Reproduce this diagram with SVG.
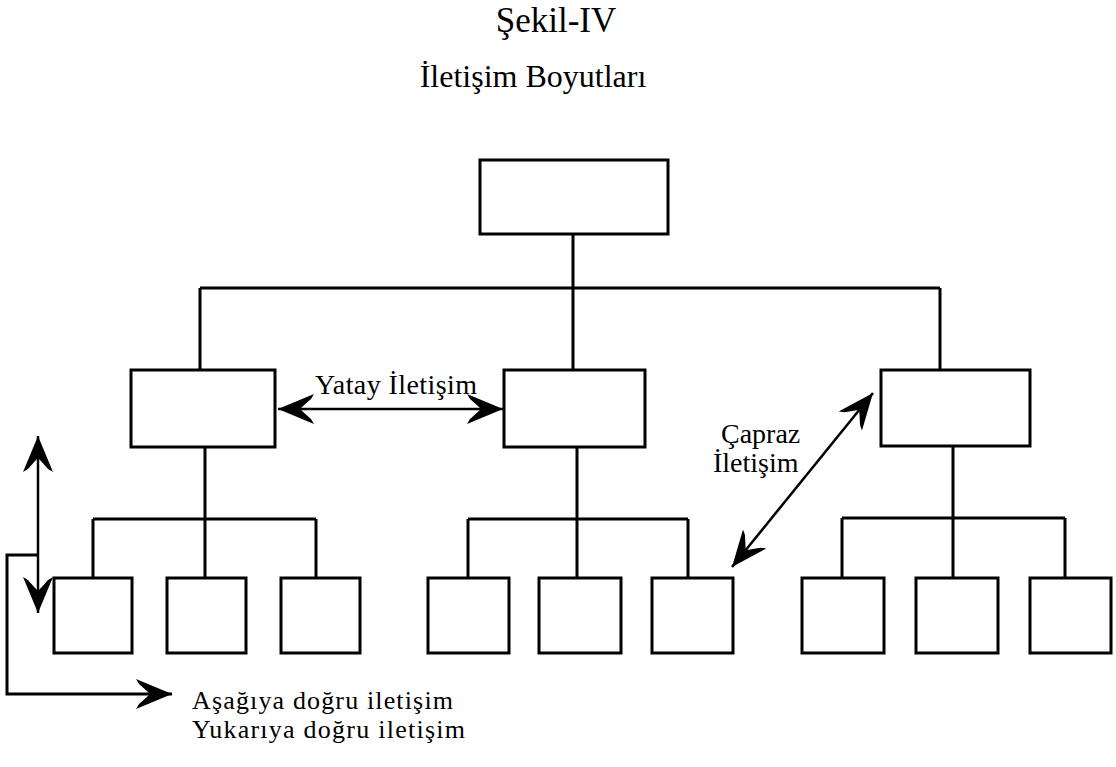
<svg xmlns="http://www.w3.org/2000/svg" width="1116" height="767" viewBox="0 0 1116 767">
<style>
.box{fill:#fff;stroke:#000;stroke-width:3}
.ln{fill:none;stroke:#000;stroke-width:3}
.ar{fill:none;stroke:#000;stroke-width:2.5}
.t{font-family:"Liberation Serif","Times New Roman",serif;fill:#000}
</style>
<defs>
<marker id="ah" markerUnits="userSpaceOnUse" viewBox="-40 -20 42 40" markerWidth="42" markerHeight="40" refX="0" refY="0" orient="auto-start-reverse">
<path d="M0,0 L-36,-15 L-33,-10 Q-25,-3 -22,0 Q-25,3 -33,10 L-36,15 Z" fill="#000"/>
</marker>
</defs>
<rect width="1116" height="767" fill="#fff"/>
<text class="t" x="556" y="32" font-size="35" text-anchor="middle">Şekil-IV</text>
<text class="t" x="533" y="87" font-size="32" text-anchor="middle">İletişim Boyutları</text>
<g id="connectors">
<path class="ln" d="M573,234 V288 M200,288 H940 M200,288 V370 M573,288 V370 M940,288 V370"/>
<path class="ln" d="M205,447 V519 M93,519 H316 M93,519 V578 M205,519 V578 M316,519 V578"/>
<path class="ln" d="M577,447 V519 M468,519 H688 M468,519 V578 M577,519 V578 M688,519 V578"/>
<path class="ln" d="M953,446 V518 M842,518 H1065 M842,518 V578 M953,518 V578 M1065,518 V578"/>
<path class="ar" d="M278,409 H503" marker-start="url(#ah)" marker-end="url(#ah)"/>
<path class="ar" d="M873,393 L732,567" marker-start="url(#ah)" marker-end="url(#ah)"/>
<path class="ar" d="M38,436 V613" marker-start="url(#ah)" marker-end="url(#ah)"/>
<path class="ln" d="M37,555 H7 V694 H172" marker-end="url(#ah)"/>
</g>
<g id="top"><rect class="box" x="480" y="160" width="188" height="74"/></g>
<g id="mid-left"><rect class="box" x="131" y="370" width="144" height="77"/></g>
<g id="mid-center"><rect class="box" x="504" y="370" width="141" height="77"/></g>
<g id="mid-right"><rect class="box" x="881" y="370" width="149" height="76"/></g>
<g id="b1"><rect class="box" x="54" y="578" width="78" height="75"/></g>
<g id="b2"><rect class="box" x="167" y="578" width="79" height="75"/></g>
<g id="b3"><rect class="box" x="281" y="578" width="79" height="75"/></g>
<g id="b4"><rect class="box" x="428" y="578" width="81" height="75"/></g>
<g id="b5"><rect class="box" x="539" y="578" width="82" height="75"/></g>
<g id="b6"><rect class="box" x="652" y="578" width="81" height="75"/></g>
<g id="b7"><rect class="box" x="802" y="578" width="82" height="75"/></g>
<g id="b8"><rect class="box" x="916" y="578" width="82" height="75"/></g>
<g id="b9"><rect class="box" x="1030" y="578" width="81" height="75"/></g>
<g id="labels">
<text class="t" x="315" y="394" font-size="28" textLength="162" lengthAdjust="spacing">Yatay İletişim</text>
<text class="t" x="721" y="443" font-size="28">Çapraz</text>
<text class="t" x="713" y="472" font-size="28">İletişim</text>
<text class="t" x="192" y="709" font-size="26" textLength="261" lengthAdjust="spacing">Aşağıya doğru iletişim</text>
<text class="t" x="192" y="738" font-size="26" textLength="273" lengthAdjust="spacing">Yukarıya doğru iletişim</text>
</g>
</svg>
